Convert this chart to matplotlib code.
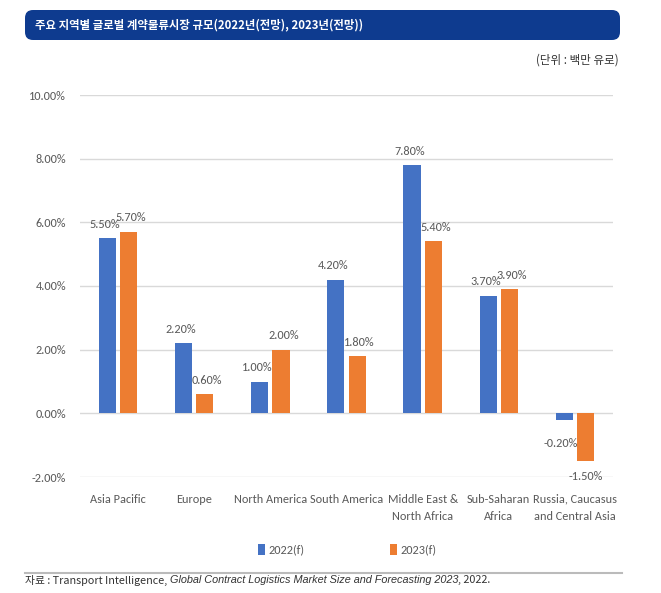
import matplotlib
matplotlib.use("Agg")
import matplotlib.pyplot as plt
from matplotlib.patches import FancyBboxPatch, Patch
from matplotlib.lines import Line2D
import numpy as np

categories = ["Asia Pacific", "Europe", "North America", "South America",
              "Middle East &\nNorth Africa", "Sub-Saharan\nAfrica",
              "Russia, Caucasus\nand Central Asia"]
series_2022 = [5.5, 2.2, 1.0, 4.2, 7.8, 3.7, -0.2]
series_2023 = [5.7, 0.6, 2.0, 1.8, 5.4, 3.9, -1.5]
series_names = ["2022(f)", "2023(f)"]
yticks = [-2, 0, 2, 4, 6, 8, 10]

title = "주요 지역별 글로벌 계약물류시장 규모(2022년(전망), 2023년(전망))"
unit = "(단위 : 백만 유로)"
source_a = "자료 : Transport Intelligence, "
source_b = "Global Contract Logistics Market Size and Forecasting 2023"
source_c = ", 2022."

BLUE = "#4472C4"
ORANGE = "#ED7D31"
GRAY = "#595959"
CAL = ["Carlito", "DejaVu Sans"]
KR = ["Noto Sans CJK KR", "DejaVu Sans"]
FS = 8.8

fig = plt.figure(figsize=(6.61, 5.93), dpi=100)
fig.patch.set_facecolor("white")
W, H = 661, 593

# title bar
bar = FancyBboxPatch((25 / W, 1 - 40 / H), (620 - 25) / W, 30 / H,
                     boxstyle="round,pad=0,rounding_size=0.012",
                     transform=fig.transFigure, facecolor="#0E3B8F",
                     edgecolor="none", mutation_aspect=W / H)
fig.patches.append(bar)
fig.text(35 / W, 1 - 25 / H, title, color="white", fontsize=8.2,
         family=KR, weight="bold", va="center", ha="left")
fig.text(619 / W, 1 - 60 / H, unit, color="#333333", fontsize=8.3,
         family=KR, va="center", ha="right")

ax = fig.add_axes([80 / W, 1 - 477 / H, (613 - 80) / W, (477 - 95) / H])
x = np.arange(len(categories))
w = 0.225
off = 0.14
ax.bar(x - off, series_2022, w, color=BLUE, zorder=3)
ax.bar(x + off, series_2023, w, color=ORANGE, zorder=3)

ax.set_xlim(-0.5, len(categories) - 0.5)
ax.set_ylim(-2, 10)
ax.set_yticks(yticks)
ax.set_yticklabels([f"{v:.2f}%" for v in yticks], family=CAL,
                   fontsize=FS, color=GRAY)
ax.set_xticks(x)
ax.set_xticklabels(categories, family=CAL, fontsize=FS, color=GRAY,
                   linespacing=1.7, va="top")
ax.tick_params(axis="both", length=0)
ax.tick_params(axis="y", pad=10)
ax.tick_params(axis="x", pad=12)
ax.grid(axis="y", color="#D9D9D9", linewidth=1, zorder=0)
for s in ax.spines.values():
    s.set_visible(False)

def lab(xp, yv, dy, txt):
    ax.annotate(txt, (xp, yv), xytext=(0, dy), textcoords="offset points",
                ha="center", va="center", fontsize=FS, color=GRAY,
                family=CAL)

for i in range(len(categories)):
    v1, v2 = series_2022[i], series_2023[i]
    if v1 >= 0:
        lab(x[i] - off - 0.03, v1, 10, f"{v1:.2f}%")
    else:
        lab(x[i] - off - 0.05, v1, -17, f"{v1:.2f}%")
    if v2 >= 0:
        lab(x[i] + off + 0.03, v2, 10, f"{v2:.2f}%")
    else:
        lab(x[i] + off, v2, -11, f"{v2:.2f}%")

handles = [Patch(facecolor=BLUE), Patch(facecolor=ORANGE)]
leg = fig.legend(handles, series_names, loc="center", ncol=2,
                 bbox_to_anchor=(347 / W, 1 - 550 / H), frameon=False,
                 handlelength=0.55, handleheight=0.9, handletextpad=0.3,
                 columnspacing=7.0, prop={"family": CAL, "size": FS})
for t in leg.get_texts():
    t.set_color(GRAY)

# separator
fig.lines.append(Line2D([25 / W, 622 / W], [1 - 573 / H, 1 - 573 / H],
                        transform=fig.transFigure, color="#BBBBBB", lw=1.5))

SFS = 7.8
ys = 1 - 580 / H
t1 = fig.text(25 / W, ys, source_a, fontsize=SFS, family=KR,
              color="#333333", va="center", ha="left")
fig.canvas.draw()
r = fig.canvas.get_renderer()
inv = fig.transFigure.inverted()
p = inv.transform((t1.get_window_extent(r).x1, 0))[0]
t2 = fig.text(p, ys, source_b, fontsize=SFS,
              family=["Liberation Sans", "DejaVu Sans"], style="italic",
              color="#333333", va="center", ha="left")
fig.canvas.draw()
p2 = inv.transform((t2.get_window_extent(r).x1, 0))[0]
fig.text(p2, ys, source_c, fontsize=SFS, family=KR,
         color="#333333", va="center", ha="left")

fig.savefig("out.png", dpi=100)
